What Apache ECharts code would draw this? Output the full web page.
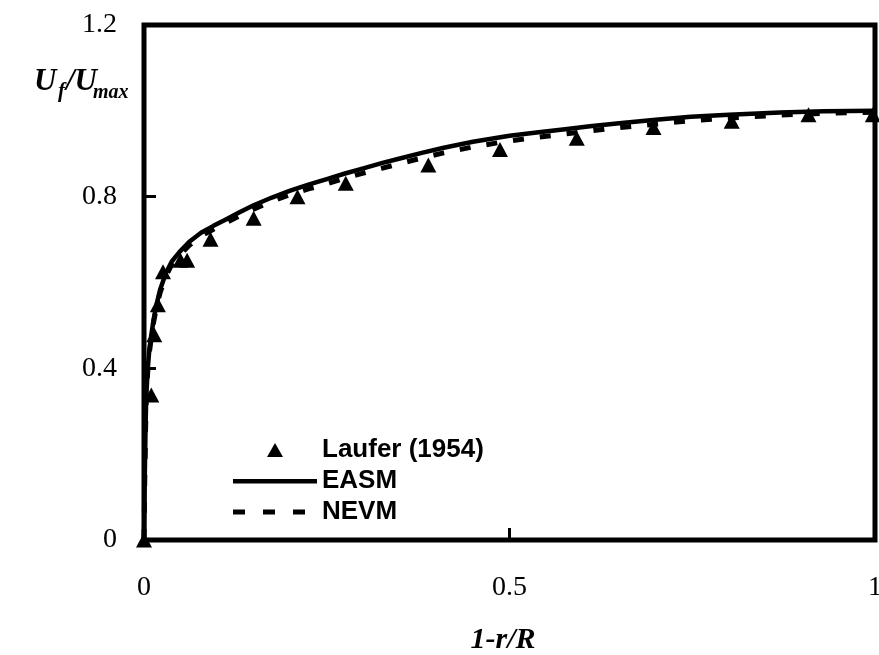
<!DOCTYPE html>
<html>
<head>
<meta charset="utf-8">
<script src="https://cdn.jsdelivr.net/npm/echarts@6/dist/echarts.min.js"></script>
<style>html,body{margin:0;padding:0;background:#fff}#c{width:879px;height:655px}</style>
</head>
<body>
<div id="c"></div>
<script>
// Experimental data: Laufer (1954)
const lauferX = [0, 0.010, 0.014, 0.019, 0.026, 0.050, 0.059, 0.091, 0.150, 0.210, 0.276, 0.389, 0.487, 0.592, 0.697, 0.804, 0.909, 0.997];
const lauferY = [0, 0.338, 0.478, 0.548, 0.625, 0.652, 0.652, 0.701, 0.750, 0.800, 0.831, 0.874, 0.910, 0.936, 0.961, 0.976, 0.991, 0.991];
// Model curves
const curveX = [0, 0.001, 0.002, 0.003, 0.005, 0.007, 0.010, 0.013, 0.017, 0.022, 0.030, 0.038, 0.049, 0.062, 0.078, 0.095, 0.112, 0.130, 0.150, 0.175, 0.200, 0.225, 0.250, 0.275, 0.300, 0.325, 0.350, 0.380, 0.410, 0.450, 0.500, 0.540, 0.576, 0.610, 0.650, 0.700, 0.748, 0.800, 0.870, 0.930, 1.000];
const easmY  = [0, 0.140, 0.250, 0.330, 0.395, 0.438, 0.478, 0.512, 0.548, 0.583, 0.622, 0.649, 0.672, 0.695, 0.716, 0.732, 0.747, 0.763, 0.780, 0.798, 0.814, 0.828, 0.841, 0.854, 0.866, 0.878, 0.889, 0.902, 0.914, 0.928, 0.942, 0.950, 0.957, 0.964, 0.971, 0.979, 0.986, 0.991, 0.996, 0.999, 1.000];
const nevmY  = [0, 0.136, 0.245, 0.326, 0.390, 0.432, 0.472, 0.506, 0.542, 0.576, 0.615, 0.642, 0.664, 0.687, 0.708, 0.724, 0.739, 0.755, 0.771, 0.789, 0.805, 0.818, 0.830, 0.843, 0.855, 0.866, 0.877, 0.890, 0.902, 0.916, 0.930, 0.939, 0.946, 0.953, 0.961, 0.969, 0.977, 0.983, 0.990, 0.994, 0.997];
const seriesNames = ['Laufer (1954)', 'EASM', 'NEVM'];
const xTicks = { min: 0, max: 1, interval: 0.5 };
const yTicks = { min: 0, max: 1.2, interval: 0.4 };

const zip = (xs, ys) => xs.map((x, i) => [x, ys[i]]);
const serif = 'Liberation Serif, Times New Roman, serif';
// legend icon shapes in an 84x16 box (tiny corner specks fix the box extent)
const ext = 'M0,0h0.05v0.05h-0.05zM83.95,15.95h0.05v0.05h-0.05z';
const iconTri = 'path://M34,15L42,1L50,15Z' + ext;
const iconSolid = 'path://M0,6h84v4.5h-84z' + ext;
const iconDash = 'path://M0,5.5h12v5h-12zM30,5.5h12v5h-12zM60,5.5h12v5h-12z' + ext;

const chart = echarts.init(document.getElementById('c'), null, { renderer: 'canvas' });
chart.setOption({
  backgroundColor: '#fff',
  animation: false,
  grid: { left: 144, right: 4, top: 25, bottom: 115, show: true, borderColor: '#000', borderWidth: 5, outerBoundsMode: 'none', containLabel: false },
  xAxis: {
    type: 'value', min: xTicks.min, max: xTicks.max, interval: xTicks.interval,
    axisLine: { show: false },
    axisTick: { show: true, inside: true, length: 12, lineStyle: { color: '#000', width: 3 } },
    splitLine: { show: false },
    axisLabel: { color: '#000', fontFamily: serif, fontSize: 28, margin: 34, hideOverlap: false, formatter: v => String(v) }
  },
  yAxis: {
    type: 'value', min: yTicks.min, max: yTicks.max, interval: yTicks.interval,
    axisLine: { show: false },
    axisTick: { show: true, inside: true, length: 12, lineStyle: { color: '#000', width: 3 } },
    splitLine: { show: false },
    axisLabel: { color: '#000', fontFamily: serif, fontSize: 28, margin: 27, formatter: v => String(Math.round(v * 10) / 10) }
  },
  legend: {
    orient: 'vertical', left: 233, top: 437, padding: 0,
    itemWidth: 84, itemHeight: 16, itemGap: 5,
    symbolKeepAspect: false,
    data: [
      { name: seriesNames[0], icon: iconTri, itemStyle: { color: '#000', opacity: 1 } },
      { name: seriesNames[1], icon: iconSolid, itemStyle: { color: '#000' } },
      { name: seriesNames[2], icon: iconDash, itemStyle: { color: '#000' } }
    ],
    textStyle: { color: '#000', fontFamily: 'Liberation Sans, Arial, sans-serif', fontWeight: 'bold', fontSize: 26, lineHeight: 26 }
  },
  graphic: [
    { type: 'text', x: 34, y: 82, style: { text: 'U', fill: '#000', font: 'italic bold 31px ' + serif, verticalAlign: 'middle' } },
    { type: 'text', x: 58, y: 92, style: { text: 'f', fill: '#000', font: 'italic bold 21px ' + serif, verticalAlign: 'middle' } },
    { type: 'text', x: 66, y: 82, style: { text: '/U', fill: '#000', font: 'italic bold 31px ' + serif, verticalAlign: 'middle' } },
    { type: 'text', x: 93, y: 93, style: { text: 'max', fill: '#000', font: 'italic bold 20px ' + serif, verticalAlign: 'middle' } },
    { type: 'text', x: 503, y: 640, style: { text: '1-r/R', fill: '#000', font: 'italic bold 30px ' + serif, align: 'center', verticalAlign: 'middle' } }
  ],
  series: [
    {
      name: seriesNames[0], type: 'scatter', symbol: 'triangle', symbolSize: [16, 15],
      itemStyle: { color: '#000', opacity: 1 }, data: zip(lauferX, lauferY), z: 2
    },
    {
      name: seriesNames[1], type: 'line', symbol: 'none', smooth: false,
      lineStyle: { color: '#000', width: 4.5, type: 'solid', join: 'round' }, itemStyle: { color: '#000' },
      data: zip(curveX, easmY), z: 3
    },
    {
      name: seriesNames[2], type: 'line', symbol: 'none', smooth: false,
      lineStyle: { color: '#000', width: 5, type: [11, 16] }, itemStyle: { color: '#000' },
      data: zip(curveX, nevmY), z: 3
    }
  ]
});
</script>
</body>
</html>
